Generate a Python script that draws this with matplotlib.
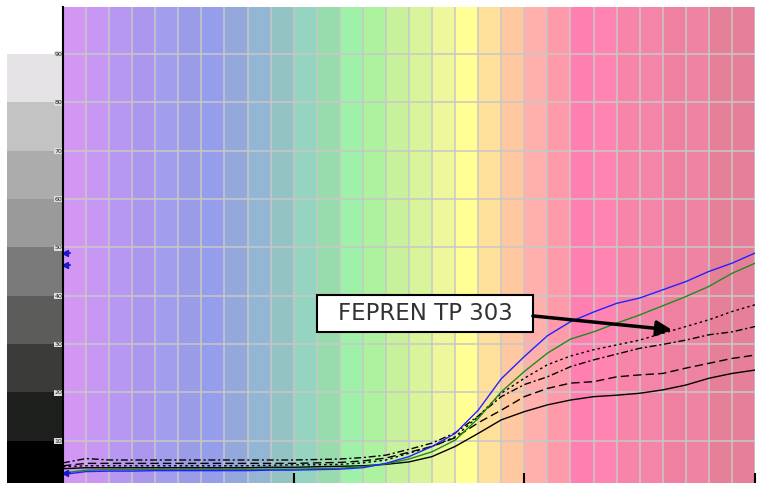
import matplotlib
matplotlib.use("Agg")
import matplotlib.pyplot as plt
from matplotlib.patches import Rectangle
import numpy as np

# wavelength grid (nm)
wavelengths = list(range(400, 701, 10))

# reflectance curves (%)
blue_curve = [3.0, 3.6, 3.7, 3.7, 3.8, 3.8, 3.8, 3.8, 3.8, 3.9, 3.9, 4.0, 4.1, 4.4, 5.3,
              6.7, 8.8, 11.5, 16.3, 22.8, 27.4, 31.7, 34.6, 36.6, 38.4, 39.5, 41.2, 42.9,
              45.0, 46.7, 48.8]
green_curve = [3.3, 3.9, 4.0, 4.0, 4.0, 4.0, 4.0, 4.0, 4.0, 4.1, 4.1, 4.2, 4.3, 4.6, 5.2,
               6.2, 7.7, 10.1, 14.6, 20.1, 24.3, 28.1, 31.0, 32.5, 34.3, 36.0, 37.9, 39.8,
               41.9, 44.6, 46.7]
dotted_curve = [4.6, 4.8, 4.8, 4.8, 4.8, 4.8, 4.8, 4.8, 4.8, 4.9, 5.0, 5.0, 5.1, 5.4, 6.0,
                7.4, 8.8, 10.8, 15.0, 19.8, 22.9, 25.7, 27.5, 28.8, 29.8, 30.8, 32.2, 33.6,
                35.0, 36.7, 38.1]
dashdot_curve = [5.4, 6.3, 6.0, 6.0, 6.0, 6.0, 6.0, 6.0, 6.0, 6.0, 6.0, 6.1, 6.2, 6.5, 7.0,
                 8.2, 9.5, 11.6, 15.1, 19.1, 21.6, 23.2, 25.3, 26.7, 27.9, 29.1, 29.9, 30.8,
                 31.9, 32.5, 33.6]
dashed_curve = [4.8, 5.3, 5.3, 5.3, 5.3, 5.3, 5.3, 5.3, 5.3, 5.3, 5.3, 5.4, 5.5, 5.8, 6.4,
                7.6, 8.8, 10.6, 13.7, 16.3, 19.1, 20.8, 21.9, 22.2, 23.2, 23.6, 23.9, 25.0,
                26.0, 27.0, 27.7]
solid_curve = [4.2, 4.4, 4.4, 4.4, 4.4, 4.4, 4.4, 4.4, 4.4, 4.5, 4.5, 4.6, 4.7, 4.8, 5.1,
               5.6, 6.7, 8.8, 11.5, 14.3, 16.0, 17.4, 18.4, 19.1, 19.4, 19.8, 20.5, 21.5,
               22.9, 23.9, 24.6]

# spectrum band colours, one per 10 nm
band_colors = ["#d197f3", "#c797f3", "#b697f1", "#ab97ee", "#a39ded", "#9b9ce8", "#959eea",
               "#94a8dc", "#93b6d5", "#93c3c3", "#94d4c0", "#98dcae", "#9ff0a8", "#adf29e",
               "#c7f29b", "#d8f59b", "#eff79c", "#ffff94", "#ffe09b", "#ffc8a0", "#ffb0ac",
               "#ff9aaa", "#ff80b0", "#ff84b2", "#f785aa", "#f585a8", "#ef80a0", "#ef83a2",
               "#e68098", "#e6809a"]

# grey scale swatches (bottom 0-10 up to 80-90)
gray_levels = [0, 10, 20, 30, 40, 50, 60, 70, 80]
gray_colors = ["#000000", "#1c1f1c", "#3b3c3a", "#5c5d5a", "#7b7a7b", "#9b9a9b",
               "#acacac", "#c4c3c4", "#e6e3e6"]

y_ticks = [10, 20, 30, 40, 50, 60, 70, 80, 90]
x_ticks = [500, 600, 700]
marker_vals = [48.8, 46.3, 3.3]

label_text = "FEPREN TP 303"

W, H = 759, 483
fig = plt.figure(figsize=(W / 100, H / 100), dpi=100)
ax = fig.add_axes([63 / W, 0, 692 / W, 476 / H])
ax_sw = fig.add_axes([7 / W, 0, 56 / W, 476 / H], sharey=ax)

ylim = (1.24, 99.7)

# spectrum background
for start, c in zip(wavelengths[:-1], band_colors):
    ax.axvspan(start, start + 10, color=c, lw=0, zorder=0)

# grid
for w in wavelengths:
    ax.axvline(w, color="#c8c8c8", lw=1.3, alpha=0.85, zorder=1)
for t in y_ticks:
    ax.axhline(t, color="#c8c8c8", lw=1.3, alpha=0.85, zorder=1)

# curves
ax.plot(wavelengths, solid_curve, color="black", lw=1.0, zorder=3)
ax.plot(wavelengths, dashed_curve, color="black", lw=1.0, ls=(0, (6, 3)), zorder=3)
ax.plot(wavelengths, dashdot_curve, color="black", lw=1.0, ls=(0, (5, 2, 1.5, 2)), zorder=3)
ax.plot(wavelengths, dotted_curve, color="black", lw=1.0, ls=(0, (1.8, 2.2)), zorder=3)
ax.plot(wavelengths, green_curve, color="#1e8c1e", lw=1.0, zorder=4)
ax.plot(wavelengths, blue_curve, color="#2222ff", lw=1.0, zorder=5)

# small blue markers at left edge
for v in marker_vals:
    ax.plot([401.0], [v], marker="<", ms=4, color="#1a1acc", clip_on=False, zorder=6)
    ax.plot([401.0, 403.0], [v, v], color="#1a1acc", lw=1.2, clip_on=False, zorder=6)

# annotation box + arrow
ax.add_patch(Rectangle((510.1, 32.4), 93.6, 7.7, facecolor="white", edgecolor="black",
                       lw=1.5, zorder=7))
ax.text(556.9, 36.2, label_text, ha="center", va="center", fontsize=16.5,
        color="#333333", zorder=8)
ax.annotate("", xy=(664.0, 32.9), xytext=(603.7, 35.8),
            arrowprops=dict(arrowstyle="-|>,head_length=0.9,head_width=0.45",
                            color="black", lw=2.5, shrinkA=0, shrinkB=0), zorder=8)

ax.set_xlim(400, 700)
ax.set_ylim(*ylim)
ax.set_xticks(x_ticks)
ax.set_xticklabels([])
ax.tick_params(axis="x", direction="in", length=7, width=1.5, color="black")
ax.set_yticks(y_ticks)
ax.set_yticklabels([str(t) for t in y_ticks])
ax.tick_params(axis="y", length=0, pad=0.5, labelsize=4.5, labelcolor="#222222")
for lbl in ax.get_yticklabels():
    lbl.set_bbox(dict(facecolor="#dddddd", edgecolor="none", pad=0.3))
    lbl.set_zorder(10)
for s in ["top", "right", "bottom"]:
    ax.spines[s].set_visible(False)
ax.spines["left"].set_linewidth(1.5)
ax.spines["left"].set_zorder(9)

# grey swatches
ax_sw.bar([0] * len(gray_levels), [10] * len(gray_levels), bottom=gray_levels, width=1.0,
          color=gray_colors, align="edge", lw=0)
ax_sw.set_xlim(0, 1)
ax_sw.axis("off")
ax_sw.set_zorder(-1)

fig.savefig("out.png", dpi=100)
